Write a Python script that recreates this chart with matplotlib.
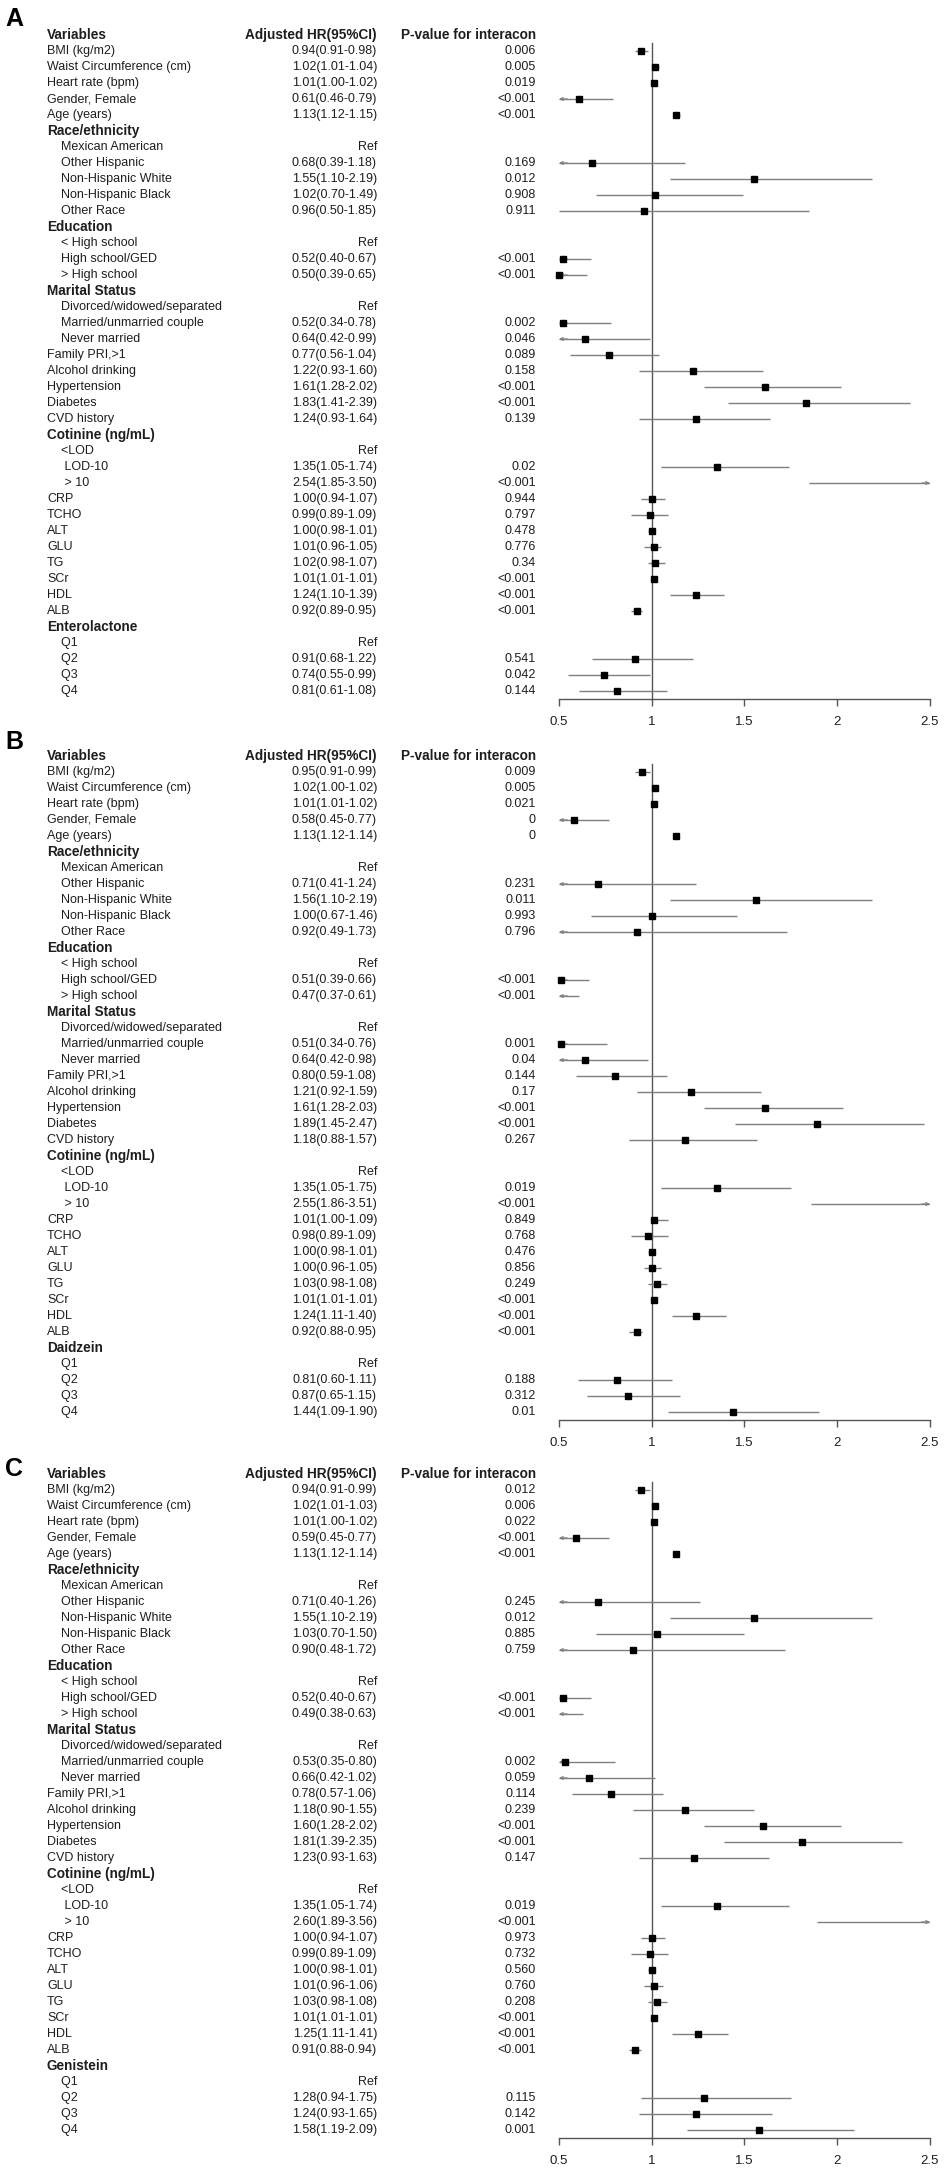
import matplotlib.pyplot as plt
import matplotlib.transforms as mtransforms

plt.rcParams['font.family'] = ['Liberation Sans', 'DejaVu Sans']

# row labels shared by the three panels ('h' = bold header, 'r' = reference, 'd' = estimate)
labels = ['BMI (kg/m2)', 'Waist Circumference (cm)', 'Heart rate (bpm)', 'Gender, Female', 'Age (years)',
          'Race/ethnicity', '    Mexican American', '    Other Hispanic', '    Non-Hispanic White',
          '    Non-Hispanic Black', '    Other Race',
          'Education', '    < High school', '    High school/GED', '    > High school',
          'Marital Status', '    Divorced/widowed/separated', '    Married/unmarried couple', '    Never married',
          'Family PRI,>1', 'Alcohol drinking', 'Hypertension', 'Diabetes', 'CVD history',
          'Cotinine (ng/mL)', '    <LOD', '     LOD-10', '     > 10',
          'CRP', 'TCHO', 'ALT', 'GLU', 'TG', 'SCr', 'HDL', 'ALB',
          None, '    Q1', '    Q2', '    Q3', '    Q4']
kinds = ['d', 'd', 'd', 'd', 'd',
         'h', 'r', 'd', 'd', 'd', 'd',
         'h', 'r', 'd', 'd',
         'h', 'r', 'd', 'd',
         'd', 'd', 'd', 'd', 'd',
         'h', 'r', 'd', 'd',
         'd', 'd', 'd', 'd', 'd', 'd', 'd', 'd',
         'h', 'r', 'd', 'd', 'd']

# panel A - Enterolactone
hr_a = [0.94, 1.02, 1.01, 0.61, 1.13, 0.68, 1.55, 1.02, 0.96, 0.52, 0.50, 0.52, 0.64, 0.77, 1.22, 1.61,
        1.83, 1.24, 1.35, 2.54, 1.00, 0.99, 1.00, 1.01, 1.02, 1.01, 1.24, 0.92, 0.91, 0.74, 0.81]
lo_a = [0.91, 1.01, 1.00, 0.46, 1.12, 0.39, 1.10, 0.70, 0.50, 0.40, 0.39, 0.34, 0.42, 0.56, 0.93, 1.28,
        1.41, 0.93, 1.05, 1.85, 0.94, 0.89, 0.98, 0.96, 0.98, 1.01, 1.10, 0.89, 0.68, 0.55, 0.61]
hi_a = [0.98, 1.04, 1.02, 0.79, 1.15, 1.18, 2.19, 1.49, 1.85, 0.67, 0.65, 0.78, 0.99, 1.04, 1.60, 2.02,
        2.39, 1.64, 1.74, 3.50, 1.07, 1.09, 1.01, 1.05, 1.07, 1.01, 1.39, 0.95, 1.22, 0.99, 1.08]
p_a = ['0.006', '0.005', '0.019', '<0.001', '<0.001', '0.169', '0.012', '0.908', '0.911', '<0.001', '<0.001',
       '0.002', '0.046', '0.089', '0.158', '<0.001', '<0.001', '0.139', '0.02', '<0.001', '0.944', '0.797',
       '0.478', '0.776', '0.34', '<0.001', '<0.001', '<0.001', '0.541', '0.042', '0.144']

# panel B - Daidzein
hr_b = [0.95, 1.02, 1.01, 0.58, 1.13, 0.71, 1.56, 1.00, 0.92, 0.51, 0.47, 0.51, 0.64, 0.80, 1.21, 1.61,
        1.89, 1.18, 1.35, 2.55, 1.01, 0.98, 1.00, 1.00, 1.03, 1.01, 1.24, 0.92, 0.81, 0.87, 1.44]
lo_b = [0.91, 1.00, 1.01, 0.45, 1.12, 0.41, 1.10, 0.67, 0.49, 0.39, 0.37, 0.34, 0.42, 0.59, 0.92, 1.28,
        1.45, 0.88, 1.05, 1.86, 1.00, 0.89, 0.98, 0.96, 0.98, 1.01, 1.11, 0.88, 0.60, 0.65, 1.09]
hi_b = [0.99, 1.02, 1.02, 0.77, 1.14, 1.24, 2.19, 1.46, 1.73, 0.66, 0.61, 0.76, 0.98, 1.08, 1.59, 2.03,
        2.47, 1.57, 1.75, 3.51, 1.09, 1.09, 1.01, 1.05, 1.08, 1.01, 1.40, 0.95, 1.11, 1.15, 1.90]
p_b = ['0.009', '0.005', '0.021', '0', '0', '0.231', '0.011', '0.993', '0.796', '<0.001', '<0.001',
       '0.001', '0.04', '0.144', '0.17', '<0.001', '<0.001', '0.267', '0.019', '<0.001', '0.849', '0.768',
       '0.476', '0.856', '0.249', '<0.001', '<0.001', '<0.001', '0.188', '0.312', '0.01']

# panel C - Genistein
hr_c = [0.94, 1.02, 1.01, 0.59, 1.13, 0.71, 1.55, 1.03, 0.90, 0.52, 0.49, 0.53, 0.66, 0.78, 1.18, 1.60,
        1.81, 1.23, 1.35, 2.60, 1.00, 0.99, 1.00, 1.01, 1.03, 1.01, 1.25, 0.91, 1.28, 1.24, 1.58]
lo_c = [0.91, 1.01, 1.00, 0.45, 1.12, 0.40, 1.10, 0.70, 0.48, 0.40, 0.38, 0.35, 0.42, 0.57, 0.90, 1.28,
        1.39, 0.93, 1.05, 1.89, 0.94, 0.89, 0.98, 0.96, 0.98, 1.01, 1.11, 0.88, 0.94, 0.93, 1.19]
hi_c = [0.99, 1.03, 1.02, 0.77, 1.14, 1.26, 2.19, 1.50, 1.72, 0.67, 0.63, 0.80, 1.02, 1.06, 1.55, 2.02,
        2.35, 1.63, 1.74, 3.56, 1.07, 1.09, 1.01, 1.06, 1.08, 1.01, 1.41, 0.94, 1.75, 1.65, 2.09]
p_c = ['0.012', '0.006', '0.022', '<0.001', '<0.001', '0.245', '0.012', '0.885', '0.759', '<0.001', '<0.001',
       '0.002', '0.059', '0.114', '0.239', '<0.001', '<0.001', '0.147', '0.019', '<0.001', '0.973', '0.732',
       '0.560', '0.760', '0.208', '<0.001', '<0.001', '<0.001', '0.115', '0.142', '0.001']

x_ticks = [0.5, 1, 1.5, 2, 2.5]
x_tick_labels = ['0.5', '1', '1.5', '2', '2.5']

W, H = 945, 2175
ROW = 16
XMIN, XMAX = 0.5, 2.5
TXT = '#1e1e1e'
CI_COL = '#7f7f7f'
REF_COL = '#555555'

fig = plt.figure(figsize=(W / 100, H / 100), dpi=100)
fig.patch.set_facecolor('white')

panels = [
    ('A', 'Enterolactone', hr_a, lo_a, hi_a, p_a, 35, 19),
    ('B', 'Daidzein', hr_b, lo_b, hi_b, p_b, 756, 742),
    ('C', 'Genistein', hr_c, lo_c, hi_c, p_c, 1474, 1469),
]

n_rows = len(labels)

for letter, group, hr, lo, hi, pv, head_y, letter_y in panels:
    top = head_y - ROW
    bottom = head_y + (n_rows + 0.5) * ROW
    ax = fig.add_axes([559 / W, 1 - bottom / H, 371 / W, (bottom - top) / H])
    ax.set_xlim(XMIN, XMAX)
    ax.set_ylim(n_rows + 0.5, -1)
    for s in ['top', 'right', 'left']:
        ax.spines[s].set_visible(False)
    ax.spines['bottom'].set_color(REF_COL)
    ax.spines['bottom'].set_linewidth(1)
    ax.set_yticks([])
    ax.set_xticks(x_ticks)
    ax.set_xticklabels(x_tick_labels)
    ax.tick_params(axis='x', length=5, width=1, color=REF_COL, pad=7, labelsize=9.5, labelcolor=TXT)
    ax.patch.set_alpha(0)

    tr = mtransforms.blended_transform_factory(fig.transFigure, ax.transData)

    # column headers
    ax.text(47 / W, 0, 'Variables', transform=tr, ha='left', va='center', fontsize=9.8, fontweight='bold', color=TXT)
    ax.text(377 / W, 0, 'Adjusted HR(95%CI)', transform=tr, ha='right', va='center', fontsize=9.8,
            fontweight='bold', color=TXT)
    ax.text(536 / W, 0, 'P-value for interacon', transform=tr, ha='right', va='center', fontsize=9.8,
            fontweight='bold', color=TXT)

    fig.text(5 / W, 1 - letter_y / H, letter, ha='left', va='center', fontsize=18, fontweight='bold')

    # reference line at HR = 1
    ax.plot([1, 1], [0.5, n_rows + 0.5], color=REF_COL, lw=1, zorder=1, clip_on=False)

    k = 0
    for i, (lab, kind) in enumerate(zip(labels, kinds)):
        row = i + 1
        if lab is None:
            lab = group
        if kind == 'h':
            ax.text(47 / W, row, lab, transform=tr, ha='left', va='center', fontsize=9.8,
                    fontweight='bold', color=TXT)
            continue
        ax.text(47 / W, row, lab, transform=tr, ha='left', va='center', fontsize=9, color=TXT)
        if kind == 'r':
            ax.text(377 / W, row, 'Ref', transform=tr, ha='right', va='center', fontsize=9, color=TXT)
            continue
        e, l, h, p = hr[k], lo[k], hi[k], pv[k]
        k += 1
        ax.text(377 / W, row, f'{e:.2f}({l:.2f}-{h:.2f})', transform=tr, ha='right', va='center',
                fontsize=9, color=TXT)
        ax.text(536 / W, row, p, transform=tr, ha='right', va='center', fontsize=9, color=TXT)

        l_c = max(l, XMIN)
        h_c = min(h, XMAX)
        ax.plot([l_c, h_c], [row, row], color=CI_COL, lw=1, zorder=2, solid_capstyle='butt')
        if l < XMIN:
            ax.annotate('', xy=(XMIN, row), xytext=(6, 0), textcoords='offset points',
                        arrowprops=dict(arrowstyle='->', color=CI_COL, lw=0.9, shrinkA=0, shrinkB=0,
                                        mutation_scale=5), annotation_clip=False)
        if h > XMAX:
            ax.annotate('', xy=(XMAX, row), xytext=(-6, 0), textcoords='offset points',
                        arrowprops=dict(arrowstyle='->', color=CI_COL, lw=0.9, shrinkA=0, shrinkB=0,
                                        mutation_scale=5), annotation_clip=False)
        if XMIN <= e <= XMAX:
            ax.plot(e, row, 's', color='black', ms=4.5, zorder=3, clip_on=False)

fig.savefig('out.png', dpi=100, facecolor='white')
